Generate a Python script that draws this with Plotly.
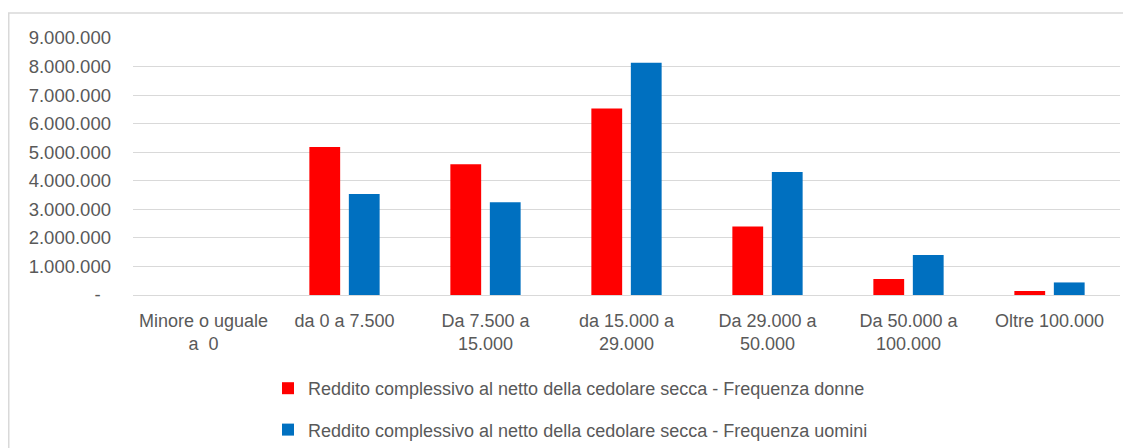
import plotly.graph_objects as go

categories = ["Minore o uguale<br>a  0", "da 0 a 7.500", "Da 7.500 a<br>15.000",
              "da 15.000 a<br>29.000", "Da 29.000 a<br>50.000", "Da 50.000 a<br>100.000",
              "Oltre 100.000"]
donne = [0, 5180000, 4580000, 6530000, 2400000, 560000, 140000]
uomini = [0, 3540000, 3250000, 8130000, 4310000, 1400000, 440000]
name_donne = "Reddito complessivo al netto della cedolare secca - Frequenza donne"
name_uomini = "Reddito complessivo al netto della cedolare secca - Frequenza uomini"
tick_vals = [0, 1000000, 2000000, 3000000, 4000000, 5000000, 6000000, 7000000, 8000000, 9000000]
tick_text = ["-\u00a0\u00a0", "1.000.000", "2.000.000", "3.000.000", "4.000.000",
             "5.000.000", "6.000.000", "7.000.000", "8.000.000", "9.000.000"]

# the page body adds an 8px offset, so the figure is 8px smaller than the window
W, H = 1123, 440
L, R, T, B = 125, 11, 30, 153
pw, ph = W - L - R, H - T - B

grey = "#595959"
fam = "Liberation Sans, Arial, sans-serif"

fig = go.Figure()
fig.add_trace(go.Bar(x=categories, y=donne, name=name_donne, marker_color="#FF0000",
                     marker_line_width=0, legendgroup="a"))
fig.add_trace(go.Bar(x=categories, y=uomini, name=name_uomini, marker_color="#0070C0",
                     marker_line_width=0, legendgroup="b"))

fig.update_layout(
    width=W, height=H,
    margin=dict(l=L, r=R, t=T, b=B, autoexpand=False),
    paper_bgcolor="white", plot_bgcolor="white",
    barmode="group", bargap=0.44, bargroupgap=0.22,
    font=dict(family=fam, size=18, color=grey),
    legend=dict(orientation="v", x=(260 - L) / pw, xanchor="left",
                y=-(362 - (T + ph)) / ph, yanchor="top",
                tracegroupgap=15, itemwidth=30,
                font=dict(family=fam, size=18, color=grey),
                bgcolor="rgba(0,0,0,0)"),
    xaxis=dict(showgrid=False, showline=False, ticks="", automargin=False,
               tickfont=dict(family=fam, size=18, color=grey),
               ticklabelstandoff=13),
    yaxis=dict(range=[0, 9000000], tickvals=tick_vals, ticktext=tick_text, automargin=False,
               showgrid=True, gridcolor="#d9d9d9", gridwidth=1,
               zeroline=True, zerolinecolor="#d9d9d9", zerolinewidth=1,
               showline=False, ticks="", ticklabelstandoff=21,
               tickfont=dict(family=fam, size=18.5, color=grey)),
    shapes=[dict(type="rect", xref="paper", yref="paper",
                 x0=(0.75 - L) / pw, x1=(1140 - L) / pw,
                 y0=-(460 - (T + ph)) / ph, y1=1 + (T - 5) / ph,
                 line=dict(color="#d9d9d9", width=1.5), fillcolor="rgba(0,0,0,0)", layer="below")],
)

fig.write_html("out.html")
